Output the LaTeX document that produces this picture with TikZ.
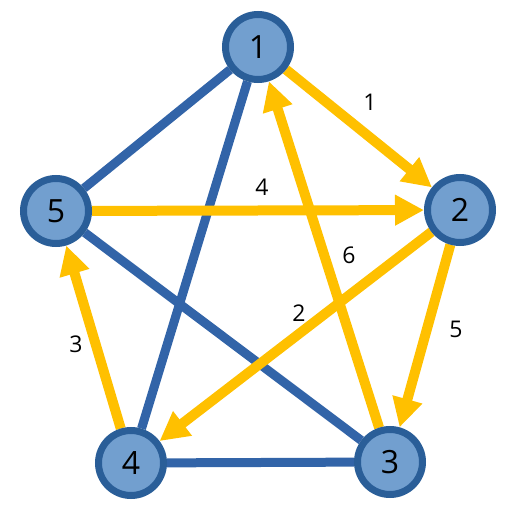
\documentclass[tikz,border=0pt]{standalone}
\usepackage{fontspec}
\setmainfont{Open Sans}
\usetikzlibrary{arrows.meta,backgrounds}
\definecolor{nodefill}{RGB}{114,159,207}
\definecolor{nodeborder}{RGB}{42,94,152}
\definecolor{edgeblue}{RGB}{50,100,168}
\definecolor{arrowgold}{RGB}{255,192,0}
\begin{document}
\begin{tikzpicture}[x=1pt,y=-1pt,
  vert/.style={circle,draw=nodeborder,fill=nodefill,line width=7pt,minimum size=65pt,inner sep=0pt,font=\fontsize{32}{32}\selectfont},
  uedge/.style={draw=edgeblue,line width=9pt},
  dedge/.style={draw=arrowgold,line width=10pt,-{Triangle[length=29pt,width=29pt]}},
  lbl/.style={font=\fontsize{23}{23}\selectfont,inner sep=0pt}]
\useasboundingbox (0,0) rectangle (523,511);
\node[vert] (n1) at (258,47) {1};
\node[vert] (n2) at (460,210) {2};
\node[vert] (n3) at (390,462) {3};
\node[vert] (n4) at (131,463) {4};
\node[vert] (n5) at (56,211) {5};
\begin{pgfonlayer}{background}
\path[uedge] (n1) -- (n5);
\path[uedge] (n1) -- (n4);
\path[uedge] (n5) -- (n3);
\path[uedge] (n4) -- (n3);
\path[dedge] (n1) -- (n2);
\path[dedge] (n5) -- (n2);
\path[dedge] (n2) -- (n4);
\path[dedge] (n4) -- (n5);
\path[dedge] (n3) -- (n1);
\path[dedge] (n2) -- (n3);
\end{pgfonlayer}
\node[lbl] (l1) at (370,102) {1};
\node[lbl] (l4) at (262,187) {4};
\node[lbl] (l6) at (349,255) {6};
\node[lbl] (l2) at (299,313) {2};
\node[lbl] (l5) at (456,329) {5};
\node[lbl] (l3) at (76,344) {3};
\end{tikzpicture}
\end{document}
